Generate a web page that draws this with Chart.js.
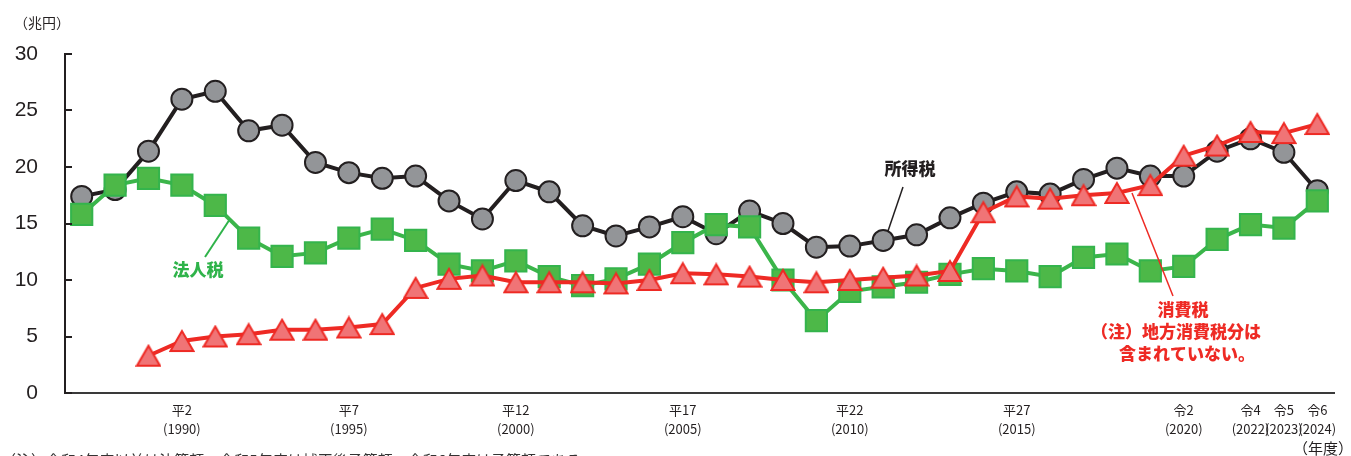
<!DOCTYPE html>
<html lang="ja">
<head>
<meta charset="utf-8">
<title>税目別税収の推移</title>
<script src="https://cdn.jsdelivr.net/npm/chart.js@4.4.1/dist/chart.umd.min.js"></script>
<style>
  html, body { margin: 0; padding: 0; background: #ffffff; }
  #wrap { position: relative; width: 1351px; height: 456px; overflow: hidden; }
  canvas { display: block; }
</style>
</head>
<body>
<div id="wrap"><canvas id="chart" width="1351" height="456"></canvas></div>
<script>
// 年度（昭和62年度〜令和6年度）
const years = [
  1987, 1988, 1989, 1990, 1991, 1992, 1993, 1994, 1995, 1996,
  1997, 1998, 1999, 2000, 2001, 2002, 2003, 2004, 2005, 2006,
  2007, 2008, 2009, 2010, 2011, 2012, 2013, 2014, 2015, 2016,
  2017, 2018, 2019, 2020, 2021, 2022, 2023, 2024
];

// 所得税（兆円）
const incomeTax = [
  17.4, 18.0, 21.4, 26.0, 26.7, 23.2, 23.7, 20.4, 19.5, 19.0,
  19.2, 17.0, 15.4, 18.8, 17.8, 14.8, 13.9, 14.7, 15.6, 14.1,
  16.1, 15.0, 12.9, 13.0, 13.5, 14.0, 15.5, 16.8, 17.8, 17.6,
  18.9, 19.9, 19.2, 19.2, 21.4, 22.5, 21.3, 17.9
];

// 法人税（兆円）
const corporateTax = [
  15.8, 18.4, 19.0, 18.4, 16.6, 13.7, 12.1, 12.4, 13.7, 14.5,
  13.5, 11.4, 10.8, 11.7, 10.3, 9.5, 10.1, 11.4, 13.3, 14.9,
  14.7, 10.0, 6.4, 9.0, 9.4, 9.8, 10.5, 11.0, 10.8, 10.3,
  12.0, 12.3, 10.8, 11.2, 13.6, 14.9, 14.6, 17.0
];

// 消費税（兆円、地方消費税分を除く）平成元年度から
const consumptionTax = [
  null, null, 3.3, 4.6, 5.0, 5.2, 5.6, 5.6, 5.8, 6.1,
  9.3, 10.1, 10.4, 9.8, 9.8, 9.8, 9.7, 10.0, 10.6, 10.5,
  10.3, 10.0, 9.8, 10.0, 10.2, 10.4, 10.8, 16.0, 17.4, 17.2,
  17.5, 17.7, 18.4, 21.0, 21.9, 23.1, 23.0, 23.8
];

// 目盛を付ける年度と和暦表記
const tickYears = [1990, 1995, 2000, 2005, 2010, 2015, 2020, 2022, 2023, 2024];
const tickEra   = ['平2', '平7', '平12', '平17', '平22', '平27', '令2', '令4', '令5', '令6'];

const yTicks = [0, 5, 10, 15, 20, 25, 30];

const JP = '"Noto Sans CJK JP", "Noto Sans", sans-serif';
const NUM = '"Liberation Sans", Arial, sans-serif';

// 三角マーカー（外接矩形の中心を点の位置に合わせる）
function makeTriangle() {
  const c = document.createElement('canvas');
  c.width = 26; c.height = 24;
  const g = c.getContext('2d');
  g.beginPath();
  g.moveTo(13, 2);
  g.lineTo(24.5, 22);
  g.lineTo(1.5, 22);
  g.closePath();
  g.fillStyle = '#f07476';
  g.fill();
  g.lineWidth = 2;
  g.strokeStyle = '#ee2a24';
  g.lineJoin = 'miter';
  g.stroke();
  return c;
}

// 目盛線（軸の内側に短く引く）と注記
const decorations = {
  id: 'decorations',
  afterDatasetsDraw(chart) {
    const { ctx, scales: { y }, chartArea } = chart;
    ctx.save();
    ctx.strokeStyle = '#231f20';
    ctx.lineWidth = 2;
    yTicks.forEach(v => {
      const py = Math.round(y.getPixelForValue(v));
      ctx.beginPath();
      ctx.moveTo(chartArea.left, py);
      ctx.lineTo(chartArea.left + 7, py);
      ctx.stroke();
    });
    ctx.restore();
  },
  afterDraw(chart) {
    const { ctx } = chart;
    ctx.save();

    // 単位
    ctx.fillStyle = '#231f20';
    ctx.font = '14px ' + JP;
    ctx.textAlign = 'left';
    ctx.textBaseline = 'middle';
    ctx.fillText('（兆円）', 14, 23);

    // 年度
    ctx.font = '15px ' + JP;
    ctx.textAlign = 'right';
    ctx.fillText('（年度）', 1353, 448);

    // 脚注
    ctx.font = '15px ' + JP;
    ctx.textAlign = 'left';
    ctx.fillStyle = '#333333';
    ctx.fillText('（注）令和4年度以前は決算額、令和5年度は補正後予算額、令和6年度は予算額である。', 1, 460);

    // 所得税
    ctx.strokeStyle = '#231f20';
    ctx.lineWidth = 1.5;
    ctx.beginPath();
    ctx.moveTo(903, 187);
    ctx.lineTo(888, 231);
    ctx.stroke();
    ctx.fillStyle = '#231f20';
    ctx.font = '900 17px ' + JP;
    ctx.textAlign = 'center';
    ctx.fillText('所得税', 910, 169);

    // 法人税
    ctx.strokeStyle = '#2fb34a';
    ctx.lineWidth = 2;
    ctx.beginPath();
    ctx.moveTo(205, 257);
    ctx.lineTo(230, 219);
    ctx.stroke();
    ctx.fillStyle = '#2fb34a';
    ctx.fillText('法人税', 198, 270);

    // 消費税
    ctx.strokeStyle = '#ee2a24';
    ctx.lineWidth = 1.5;
    ctx.beginPath();
    ctx.moveTo(1132, 193);
    ctx.lineTo(1173, 296);
    ctx.stroke();
    ctx.fillStyle = '#ee2a24';
    ctx.fillText('消費税', 1183, 310);
    ctx.fillText('（注）地方消費税分は', 1176, 332);
    ctx.fillText('含まれていない。', 1187, 354);

    ctx.restore();
  }
};

const labelFor = (idx) => {
  const k = tickYears.indexOf(years[idx]);
  return k < 0 ? '' : [tickEra[k], '(' + tickYears[k] + ')'];
};

new Chart(document.getElementById('chart'), {
  type: 'line',
  data: {
    labels: years,
    datasets: [
      {
        label: '消費税',
        data: consumptionTax,
        borderColor: '#ee2a24',
        borderWidth: 4,
        pointStyle: makeTriangle(),
        pointRadius: 12,
        spanGaps: false,
        order: 1
      },
      {
        label: '法人税',
        data: corporateTax,
        borderColor: '#3bb54a',
        borderWidth: 4,
        pointStyle: 'rect',
        pointRadius: 15,
        pointBackgroundColor: '#4db848',
        pointBorderColor: '#34b44c',
        pointBorderWidth: 2,
        order: 2
      },
      {
        label: '所得税',
        data: incomeTax,
        borderColor: '#231f20',
        borderWidth: 4,
        pointStyle: 'circle',
        pointRadius: 10.5,
        pointBackgroundColor: '#939598',
        pointBorderColor: '#231f20',
        pointBorderWidth: 2,
        order: 3
      }
    ]
  },
  options: {
    responsive: false,
    animation: false,
    devicePixelRatio: 1,
    layout: { padding: { top: 54, right: 14, left: 0, bottom: 0 } },
    plugins: {
      legend: { display: false },
      tooltip: { enabled: false }
    },
    elements: { line: { tension: 0 } },
    scales: {
      x: {
        type: 'category',
        offset: true,
        grid: { display: false, drawTicks: false },
        border: { display: true, color: '#3a3a3a', width: 2 },
        ticks: {
          autoSkip: false,
          maxRotation: 0,
          minRotation: 0,
          padding: 8,
          color: '#231f20',
          font: { family: JP, size: 13, lineHeight: '19px' },
          callback: (value, idx) => labelFor(idx)
        },
        afterFit(scale) {
          scale.height = 63;
          scale.paddingLeft = 0;
          scale.paddingRight = 0;
        }
      },
      y: {
        min: 0,
        max: 30,
        grid: { display: false, drawTicks: false },
        border: { display: true, color: '#231f20', width: 2 },
        ticks: {
          stepSize: 5,
          padding: 27,
          color: '#231f20',
          font: { family: NUM, size: 21 }
        },
        afterFit(scale) { scale.width = 65; }
      }
    }
  },
  plugins: [decorations]
});
</script>
</body>
</html>
